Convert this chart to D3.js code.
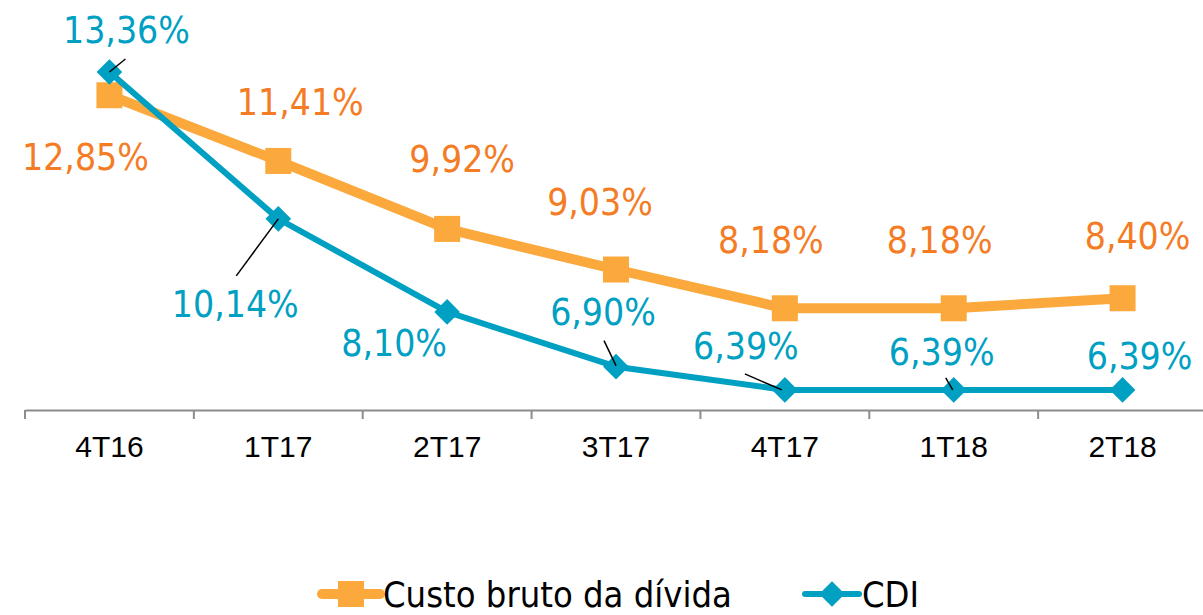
<!DOCTYPE html>
<html>
<head>
<meta charset="utf-8">
<script src="https://cdn.jsdelivr.net/npm/d3@7"></script>
<style>
  body { margin: 0; background: #fff; }
  svg { display: block; font-family: "DejaVu Sans Condensed", "DejaVu Sans", sans-serif; }
</style>
</head>
<body>
<script>
// data
var categories = ["4T16", "1T17", "2T17", "3T17", "4T17", "1T18", "2T18"];
var custoBruto = [12.85, 11.41, 9.92, 9.03, 8.18, 8.18, 8.40];
var cdi = [13.36, 10.14, 8.10, 6.90, 6.39, 6.39, 6.39];
var seriesNames = ["Custo bruto da dívida", "CDI"];

// label placement (offset of text centre from the point) and leader lines
var custoOffsets = [[-24, 62], [22, -58], [15, -69], [-16, -67], [-14, -68], [-14, -68], [15, -62]];
var cdiOffsets = [[17, -41], [-43, 86], [-53, 32], [-13, -54], [-39, -43], [-12, -37], [17, -33]];
var cdiLeaders = [[[0, 0], [16, -13]], [[0, 0], [-42, 57]], null, [[-12, -26], [0, -1]], [[-40, -16], [-3, 0]], [[-8, -12], [-1, 0]], null];

var width = 1203, height = 615;
var orangeLine = "#FBA83C", orangeText = "#F47C25";
var blue = "#00A0C3";

var svg = d3.select("body").append("svg")
  .attr("width", width)
  .attr("height", height);

var x = d3.scaleBand().domain(categories).range([25, 1207]);
var y = d3.scaleLinear().domain([5.95, 14]).range([410, 42.8]);
var cx = function(d, i) { return x(categories[i]) + x.bandwidth() / 2; };

// category axis
var axis = svg.append("g").attr("transform", "translate(0," + y(5.95) + ")")
  .call(d3.axisBottom(x).tickSize(0).tickPadding(26));
axis.select(".domain").attr("stroke", "#8c8c8c").attr("stroke-width", 2);
axis.selectAll("text").attr("font-size", 30).attr("fill", "#000").attr("font-family", null);
axis.selectAll(".boundary")
  .data(categories.concat(["end"]))
  .enter().append("line")
  .attr("x1", function(d, i) { return 25 + i * x.bandwidth(); })
  .attr("x2", function(d, i) { return 25 + i * x.bandwidth(); })
  .attr("y1", 0).attr("y2", 9)
  .attr("stroke", "#8c8c8c").attr("stroke-width", 2);

var line = d3.line().x(cx).y(function(d) { return y(d); });

// Custo bruto da dívida
svg.append("path").datum(custoBruto)
  .attr("d", line)
  .attr("fill", "none").attr("stroke", orangeLine).attr("stroke-width", 10)
  .attr("stroke-linejoin", "round");
svg.selectAll(".sq").data(custoBruto).enter().append("rect")
  .attr("x", function(d, i) { return cx(d, i) - 13; })
  .attr("y", function(d) { return y(d) - 13; })
  .attr("width", 26).attr("height", 26)
  .attr("fill", orangeLine);

// CDI
svg.append("path").datum(cdi)
  .attr("d", line)
  .attr("fill", "none").attr("stroke", blue).attr("stroke-width", 6)
  .attr("stroke-linejoin", "round");
svg.selectAll(".dm").data(cdi).enter().append("path")
  .attr("d", d3.symbol().type(d3.symbolDiamond2).size(420))
  .attr("transform", function(d, i) { return "translate(" + cx(d, i) + "," + y(d) + ")"; })
  .attr("fill", blue);

// leader lines
cdi.forEach(function(d, i) {
  var l = cdiLeaders[i];
  if (!l) return;
  svg.append("line")
    .attr("x1", cx(d, i) + l[0][0]).attr("y1", y(d) + l[0][1])
    .attr("x2", cx(d, i) + l[1][0]).attr("y2", y(d) + l[1][1])
    .attr("stroke", "#000").attr("stroke-width", 1.5);
});

var fmt = function(v) { return v.toFixed(2).replace(".", ",") + "%"; };

svg.selectAll(".lblC").data(custoBruto).enter().append("text")
  .attr("x", function(d, i) { return cx(d, i) + custoOffsets[i][0]; })
  .attr("y", function(d, i) { return y(d) + custoOffsets[i][1]; })
  .attr("text-anchor", "middle").attr("dominant-baseline", "central")
  .attr("font-size", 37).attr("fill", orangeText)
  .text(fmt);

svg.selectAll(".lblB").data(cdi).enter().append("text")
  .attr("x", function(d, i) { return cx(d, i) + cdiOffsets[i][0]; })
  .attr("y", function(d, i) { return y(d) + cdiOffsets[i][1]; })
  .attr("text-anchor", "middle").attr("dominant-baseline", "central")
  .attr("font-size", 37).attr("fill", blue)
  .text(fmt);

// legend
var legend = svg.append("g").attr("transform", "translate(0,594)");
var l1 = legend.append("g").attr("transform", "translate(322,0)");
l1.append("line").attr("x1", 0).attr("x2", 58).attr("stroke", orangeLine)
  .attr("stroke-width", 10).attr("stroke-linecap", "round");
l1.append("rect").attr("x", 16).attr("y", -13).attr("width", 26).attr("height", 26).attr("fill", orangeLine);
l1.append("text").attr("x", 61).attr("y", 0).attr("dominant-baseline", "central")
  .attr("font-size", 36).attr("fill", "#000").text(seriesNames[0]);

var l2 = legend.append("g").attr("transform", "translate(805,0)");
l2.append("line").attr("x1", 0).attr("x2", 54).attr("stroke", blue)
  .attr("stroke-width", 6).attr("stroke-linecap", "round");
l2.append("path").attr("d", d3.symbol().type(d3.symbolDiamond2).size(420))
  .attr("transform", "translate(27,0)").attr("fill", blue);
l2.append("text").attr("x", 57).attr("y", 0).attr("dominant-baseline", "central")
  .attr("font-size", 36).attr("fill", "#000").text(seriesNames[1]);
</script>
</body>
</html>
